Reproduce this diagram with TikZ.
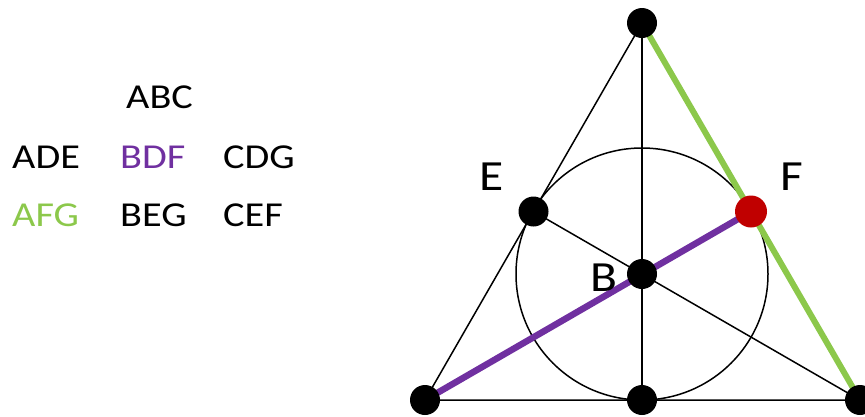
\documentclass[tikz,border=0pt]{standalone}
\usepackage{fontspec}
\setmainfont{Carlito}
\definecolor{lgreen}{HTML}{8CC84B}
\definecolor{lpurple}{HTML}{7030A0}
\definecolor{lred}{HTML}{C00000}
\begin{document}
\begin{tikzpicture}[x=1pt,y=-1pt,
  pt/.style={circle,fill=black,inner sep=0pt,minimum size=30pt},
  thin line/.style={draw=black,line width=1.5pt},
  lbl/.style={font=\fontsize{43}{46}\selectfont,inner sep=0pt,xscale=1.15,transform shape},
  word/.style={font=\fontsize{35}{40}\selectfont,inner sep=0pt,anchor=west,xscale=1.15,transform shape}]
\useasboundingbox (0,0) rectangle (865,416);
\coordinate (T) at (642,23);
\coordinate (L) at (425,400);
\coordinate (R) at (860,400);
\coordinate (M) at (642,400);
\coordinate (Ec) at (533.5,211.5);
\coordinate (Fc) at (751,211.5);
\coordinate (Bc) at (642,274);
% thin lines
\draw[thin line] (T) -- (L) -- (R) -- cycle;
\draw[thin line] (T) -- (M);
\draw[thin line] (Ec) -- (R);
\draw[thin line] (Bc) circle (126);
% colored lines
\draw[lgreen,line width=6pt] (T) -- (R);
\draw[lpurple,line width=6.5pt] (L) -- (Fc);
% points
\node[pt] (t) at (T) {};
\node[pt] (l) at (L) {};
\node[pt] (r) at (R) {};
\node[pt] (m) at (M) {};
\node[pt] (e) at (Ec) {};
\node[pt] (b) at (Bc) {};
\node[circle,fill=lred,inner sep=0pt,minimum size=32pt] (f) at (Fc) {};
% labels
\node[lbl] (lE) at (492,177) {E};
\node[lbl] (lF) at (792,177) {F};
\node[lbl] (lB) at (604,278) {B};
% words
\node[word] (abc) at (126,97) {ABC};
\node[word] (ade) at (12,157) {ADE};
\node[word,text=lpurple] (bdf) at (120,157) {BDF};
\node[word] (cdg) at (223,157) {CDG};
\node[word,text=lgreen] (afg) at (12,215) {AFG};
\node[word] (beg) at (120,215) {BEG};
\node[word] (cef) at (223,215) {CEF};
\end{tikzpicture}
\end{document}
